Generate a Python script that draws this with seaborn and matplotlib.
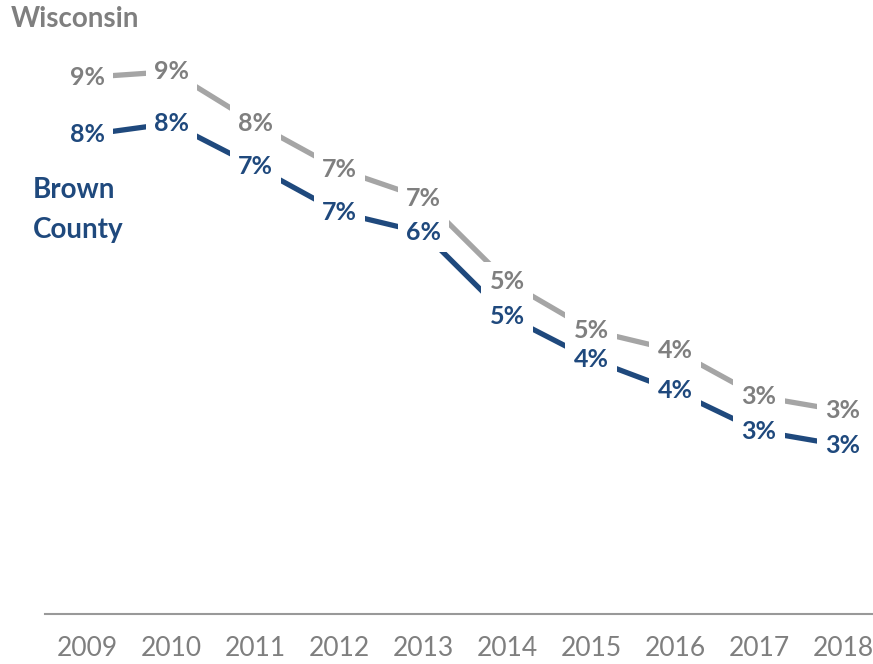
import pandas as pd
import matplotlib
matplotlib.use("Agg")
import matplotlib.pyplot as plt
import seaborn as sns

# unemployment rate by year
years = [2009, 2010, 2011, 2012, 2013, 2014, 2015, 2016, 2017, 2018]
wisconsin = [9.0, 9.1, 8.2, 7.4, 6.9, 5.45, 4.6, 4.25, 3.45, 3.2]
brown_county = [8.0, 8.2, 7.45, 6.65, 6.3, 4.85, 4.1, 3.55, 2.85, 2.6]

gray_line = "#A5A5A5"
gray_text = "#7F7F7F"
blue = "#1F497D"

sns.set_style("white")
plt.rcParams['font.family'] = ['Lato', 'DejaVu Sans']

df = pd.DataFrame({
    'year': years * 2,
    'rate': wisconsin + brown_county,
    'area': ['Wisconsin'] * len(years) + ['Brown County'] * len(years),
})

fig = plt.figure(figsize=(8.73, 6.64), dpi=100)
ax = fig.add_axes([45 / 873, 50 / 664, 828 / 873, 604 / 664])

sns.lineplot(data=df, x='year', y='rate', hue='area',
             palette={'Wisconsin': gray_line, 'Brown County': blue},
             linewidth=3.8, legend=False, ax=ax, zorder=1)

# data labels sit on the points with a white box, cutting the line
for vals, col in [(wisconsin, gray_text), (brown_county, blue)]:
    for yr, v in zip(years, vals):
        ax.text(yr, v, f"{int(v + 0.5)}%", ha='center', va='center',
                fontsize=18, fontweight='bold', color=col, zorder=3,
                bbox=dict(boxstyle='square,pad=0.33', fc='white', ec='none'))

ax.set_xlim(2008.493, 2018.358)
ax.set_ylim(-0.33, 10.17)
ax.set_xticks(years)
ax.set_xticklabels([str(y) for y in years], fontsize=19, color=gray_text)
ax.set_yticks([])
ax.set_xlabel('')
ax.set_ylabel('')
ax.tick_params(axis='x', length=0, pad=16)
for s in ['top', 'right', 'left']:
    ax.spines[s].set_visible(False)
ax.spines['bottom'].set_color('#999999')
ax.spines['bottom'].set_linewidth(1.5)

fig.text(11 / 873, 1 - 19 / 664, 'Wisconsin', ha='left', va='center',
         fontsize=20, fontweight='bold', color=gray_text)
fig.text(33 / 873, 1 - 210 / 664, 'Brown\nCounty', ha='left', va='center',
         fontsize=20, fontweight='bold', color=blue, linespacing=1.65)

fig.savefig('out.png', dpi=100)
